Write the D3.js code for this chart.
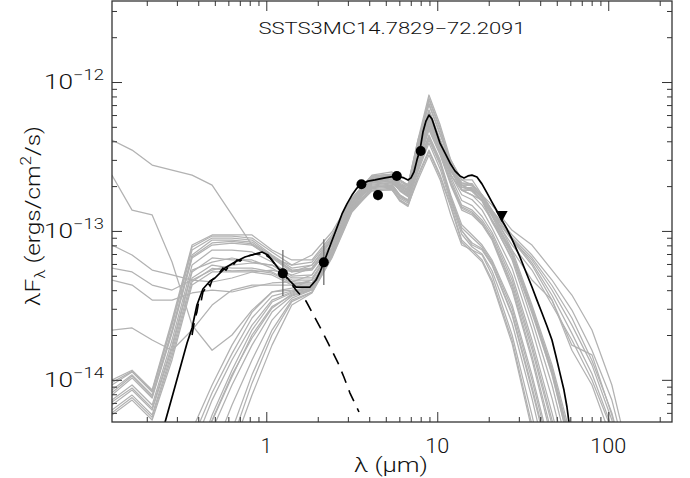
<!DOCTYPE html>
<html><head><meta charset="utf-8">
<script src="https://cdn.jsdelivr.net/npm/d3@7"></script>
<style>
body{margin:0;background:#fff}
svg{display:block}
text{font-family:Roboto,"DejaVu Sans","Liberation Sans",sans-serif;font-weight:300;fill:#111}
</style>
</head><body>
<svg id="c" width="690" height="478"></svg>
<script>
// ---------------- data ----------------
const chartTitle = "SSTS3MC14.7829\u221272.2091";
const xDomain = [0.1252, 236];          // micron
const yDomain = [5.21e-15, 3.5e-12];    // erg/cm2/s
const xMajorTicks = [1, 10, 100];
const xMajorLabels = ["1", "10", "100"];
const xMinorTicks = [0.2,0.3,0.4,0.5,0.6,0.7,0.8,0.9,2,3,4,5,6,7,8,9,20,30,40,50,60,70,80,90,200];
const yMajorTicks = [1e-14, 1e-13, 1e-12];
const yMajorExponents = ["\u221214", "\u221213", "\u221212"];
const yMinorTicks = [6e-15,7e-15,8e-15,9e-15,2e-14,3e-14,4e-14,5e-14,6e-14,7e-14,8e-14,9e-14,
                     2e-13,3e-13,4e-13,5e-13,6e-13,7e-13,8e-13,9e-13,2e-12,3e-12];

// observed photometry (J, Ks, IRAC 3.6/4.5/5.8/8.0)
const obsLambda = [1.25, 2.17, 3.6, 4.5, 5.8, 8.0];
const obsFlux   = [5.19e-14, 6.15e-14, 2.06e-13, 1.74e-13, 2.34e-13, 3.44e-13];
const obsErrLo  = [3.65e-14, 4.33e-14, 1.95e-13, 1.60e-13, 2.22e-13, 3.30e-13];
const obsErrHi  = [7.44e-14, 8.78e-14, 2.16e-13, 1.88e-13, 2.46e-13, 3.58e-13];
// MIPS 24 upper limit
const limLambda = [23.8];
const limFlux   = [1.26e-13];

// best fit model
const fitLambda = [0.239,0.256,0.292,0.344,0.368,0.393,0.426,0.469,0.501,0.573,0.656,0.750,0.859,0.944,1.023,1.080,1.171,1.252,1.376,1.492,1.639,1.801,1.953,2.061,2.175,2.358,2.556,2.772,2.964,3.171,3.391,3.627,3.932,4.322,4.945,5.811,6.387,6.743,7.020,7.309,7.606,7.920,8.248,8.588,8.944,9.311,9.826,10.37,11.09,11.87,12.69,13.58,14.33,15.12,15.96,17.07,18.25,19.53,20.89,22.34,23.90,25.56,27.35,30.45,33.02,35.80,38.28,40.96,43.80,46.87,49.46,52.19,55.08,57.35,58.91,60.51];
const fitFlux = [3.65e-15,5.21e-15,8.94e-15,1.77e-14,2.23e-14,3.18e-14,4.07e-14,4.61e-14,4.83e-14,5.63e-14,6.18e-14,6.68e-14,7.00e-14,7.22e-14,6.89e-14,6.38e-14,5.63e-14,5.21e-14,4.61e-14,4.20e-14,4.20e-14,4.20e-14,4.68e-14,5.30e-14,6.18e-14,7.92e-14,1.01e-13,1.30e-13,1.52e-13,1.74e-13,1.94e-13,2.07e-13,2.16e-13,2.20e-13,2.27e-13,2.34e-13,2.27e-13,2.20e-13,2.27e-13,2.49e-13,2.99e-13,3.49e-13,4.61e-13,5.47e-13,6.00e-13,5.64e-13,4.69e-13,3.89e-13,3.34e-13,2.86e-13,2.53e-13,2.34e-13,2.27e-13,2.34e-13,2.37e-13,2.30e-13,2.07e-13,1.80e-13,1.56e-13,1.36e-13,1.18e-13,1.03e-13,8.82e-14,6.68e-14,5.30e-14,4.20e-14,3.43e-14,2.81e-14,2.30e-14,1.85e-14,1.44e-14,1.11e-14,8.54e-15,6.57e-15,5.21e-15,3.94e-15];

// stellar photosphere of the best fit (dashed)
const photLambda = [0.368,0.383,0.393,0.404,0.415,0.426,0.444,0.456,0.469,0.482,0.508,0.536,0.558,0.581,0.605,0.630,0.647,0.674,0.702,0.741,0.782,0.825,0.871,0.919,0.969,1.009,1.051,1.109,1.171,1.252,1.376,1.492,1.617,1.707,1.850,2.061,2.296,2.627,2.847,3.087,3.484];
const photFlux = [2.00e-14,2.60e-14,2.85e-14,3.43e-14,3.33e-14,3.89e-14,4.13e-14,4.47e-14,4.27e-14,4.68e-14,4.90e-14,5.30e-14,5.63e-14,5.46e-14,5.81e-14,6.18e-14,5.99e-14,6.38e-14,6.28e-14,6.58e-14,6.79e-14,6.89e-14,7.00e-14,7.00e-14,7.22e-14,6.79e-14,6.58e-14,6.09e-14,5.63e-14,5.21e-14,4.54e-14,4.01e-14,3.60e-14,3.38e-14,2.85e-14,2.26e-14,1.77e-14,1.30e-14,1.04e-14,8.15e-15,6.08e-15];

// wavelength grid shared by the other good-fit models (grey)
const modelLambda = [0.125,0.164,0.215,0.281,0.368,0.482,0.630,0.825,1.08,1.41,1.85,2.42,3.17,4.15,5.43,6.05,6.74,7.71,8.94,10.4,12.0,13.9,16.0,18.3,20.9,27.4,35.8,46.9,61.3,80.3,105,138,180,236];
const model01 = [9.97e-15,1.16e-14,8.54e-15,2.52e-14,8.04e-14,9.39e-14,9.39e-14,9.39e-14,7.44e-14,6.38e-14,6.38e-14,9.39e-14,1.66e-13,2.37e-13,2.49e-13,2.20e-13,2.03e-13,4.08e-13,8.18e-13,5.14e-13,2.99e-13,2.20e-13,2.20e-13,1.74e-13,1.38e-13,7.44e-14,3.18e-14,1.26e-14,3.94e-15,1.14e-15,2.4e-16,5.2e-17,1.1e-17,2.4e-18];
const model02 = [9.23e-15,1.13e-14,8.28e-15,2.33e-14,7.44e-14,8.96e-14,8.96e-14,8.69e-14,6.89e-14,5.63e-14,5.90e-14,8.69e-14,1.61e-13,2.27e-13,2.34e-13,2.03e-13,1.88e-13,3.49e-13,6.48e-13,4.08e-13,2.56e-13,2.03e-13,1.88e-13,1.61e-13,1.18e-13,6.89e-14,2.94e-14,1.16e-14,3.38e-15,8.4e-16,1.8e-16,3.8e-17,8.1e-18,1.7e-18];
const model03 = [7.90e-15,1.03e-14,7.54e-15,2.06e-14,6.58e-14,8.04e-14,8.29e-14,8.04e-14,6.58e-14,5.30e-14,5.46e-14,8.04e-14,1.54e-13,2.13e-13,2.20e-13,1.88e-13,1.74e-13,2.99e-13,5.14e-13,3.49e-13,2.20e-13,1.49e-13,1.38e-13,1.18e-13,9.39e-14,4.68e-14,1.71e-14,5.37e-15,1.56e-15,3.3e-16,7.0e-17,1.5e-17,3.2e-18,6.8e-19];
const model04 = [7.31e-15,9.23e-15,6.77e-15,1.85e-14,5.90e-14,7.44e-14,7.44e-14,7.22e-14,6.18e-14,4.98e-14,5.06e-14,7.67e-14,1.49e-13,1.97e-13,2.03e-13,1.74e-13,1.61e-13,2.56e-13,4.08e-13,2.77e-13,1.61e-13,1.01e-13,8.04e-14,7.44e-14,5.90e-14,2.72e-14,8.54e-15,2.48e-15,6.2e-16,1.3e-16,2.8e-17,6.0e-18,1.3e-18,6.8e-19];
const model05 = [6.77e-15,8.54e-15,6.27e-15,1.63e-14,5.30e-14,6.58e-14,6.38e-14,6.38e-14,5.63e-14,4.68e-14,4.68e-14,7.44e-14,1.52e-13,2.27e-13,2.34e-13,2.03e-13,2.03e-13,3.77e-13,6.48e-13,4.08e-13,2.77e-13,2.03e-13,2.03e-13,1.74e-13,1.38e-13,9.39e-14,6.89e-14,4.68e-14,2.94e-14,1.58e-14,7.31e-15,2.13e-15,6.2e-16,1.8e-16];
const model06 = [6.27e-15,7.90e-15,5.80e-15,1.54e-14,4.83e-14,5.90e-14,5.63e-14,5.63e-14,5.30e-14,4.54e-14,4.47e-14,7.22e-14,1.47e-13,2.03e-13,2.10e-13,1.88e-13,1.74e-13,2.77e-13,4.76e-13,3.23e-13,2.03e-13,1.38e-13,1.28e-13,1.10e-13,8.69e-14,4.01e-14,1.36e-14,3.94e-15,9.8e-16,2.1e-16,4.4e-17,9.5e-18,2.0e-18,6.8e-19];
const model07 = [5.80e-15,7.31e-15,5.37e-15,1.36e-14,4.33e-14,5.30e-14,5.30e-14,5.30e-14,5.06e-14,4.33e-14,4.33e-14,7.00e-14,1.42e-13,1.88e-13,1.94e-13,1.61e-13,1.49e-13,2.37e-13,3.49e-13,2.37e-13,1.49e-13,8.69e-14,7.44e-14,6.38e-14,4.68e-14,1.85e-14,4.97e-15,1.14e-15,2.4e-16,5.2e-17,1.1e-17,2.4e-18,6.8e-19,3.0e-19];
const model08 = [8.54e-15,1.08e-14,7.90e-15,2.16e-14,6.89e-14,8.69e-14,8.69e-14,8.42e-14,6.79e-14,5.46e-14,5.63e-14,8.29e-14,1.56e-13,2.30e-13,2.37e-13,2.20e-13,2.03e-13,3.77e-13,7.57e-13,4.76e-13,2.77e-13,2.03e-13,2.03e-13,1.74e-13,1.28e-13,6.89e-14,2.94e-14,1.08e-14,3.13e-15,8.4e-16,1.8e-16,3.8e-17,8.1e-18,1.7e-18];
const model09 = [7.09e-15,8.81e-15,6.46e-15,1.71e-14,5.46e-14,6.18e-14,6.58e-14,6.18e-14,5.90e-14,4.83e-14,4.83e-14,7.44e-14,1.49e-13,2.00e-13,2.07e-13,1.74e-13,1.61e-13,2.77e-13,4.41e-13,2.99e-13,1.74e-13,1.10e-13,9.39e-14,8.04e-14,6.38e-14,3.18e-14,1.08e-14,3.13e-15,7.8e-16,1.8e-16,3.8e-17,8.1e-18,1.7e-18,6.8e-19];
const model10 = [3.3e-16,6.2e-16,1.56e-15,2.48e-15,4.60e-15,9.23e-15,1.71e-14,2.85e-14,3.89e-14,4.01e-14,4.20e-14,7.44e-14,1.45e-13,2.16e-13,2.23e-13,2.03e-13,1.88e-13,3.23e-13,5.56e-13,3.77e-13,2.37e-13,1.88e-13,1.88e-13,1.61e-13,1.28e-13,8.04e-14,5.46e-14,3.18e-14,1.85e-14,9.97e-15,4.60e-15,1.33e-15,3.9e-16,1.1e-16];
const model11 = [1.8e-16,3.3e-16,8.4e-16,1.14e-15,2.48e-15,5.80e-15,1.16e-14,2.16e-14,3.33e-14,3.83e-14,4.13e-14,7.22e-14,1.42e-13,2.20e-13,2.27e-13,2.03e-13,1.88e-13,3.49e-13,6.00e-13,3.77e-13,2.56e-13,1.88e-13,1.74e-13,1.49e-13,1.18e-13,6.38e-14,2.52e-14,9.23e-15,2.68e-15,6.2e-16,1.3e-16,2.8e-17,6.0e-18,1.3e-18];
const model12 = [7.0e-17,1.5e-16,3.3e-16,8.4e-16,1.56e-15,4.60e-15,9.23e-15,1.71e-14,2.85e-14,3.65e-14,4.01e-14,6.89e-14,1.38e-13,2.10e-13,2.16e-13,1.85e-13,1.70e-13,2.90e-13,5.00e-13,3.40e-13,2.10e-13,1.45e-13,1.34e-13,1.14e-13,9.0e-14,4.4e-14,1.6e-14,5.0e-15,1.4e-15,3.0e-16,6.5e-17,1.4e-17,3.0e-18,6.5e-19];
const model13 = [3.2e-17,7.0e-17,1.5e-16,3.3e-16,8.4e-16,2.13e-15,4.60e-15,1.08e-14,2.16e-14,3.43e-14,3.89e-14,6.79e-14,1.38e-13,1.97e-13,2.03e-13,1.70e-13,1.58e-13,2.70e-13,4.30e-13,2.90e-13,1.68e-13,1.05e-13,9.0e-14,7.8e-14,6.2e-14,3.0e-14,1.0e-14,2.9e-15,7.2e-16,1.7e-16,3.6e-17,7.8e-18,1.6e-18,6.5e-19];
const model14 = [1.5e-17,3.2e-17,7.0e-17,1.8e-16,4.5e-16,1.33e-15,3.38e-15,7.90e-15,1.71e-14,3.18e-14,3.83e-14,6.58e-14,1.34e-13,1.88e-13,1.88e-13,1.61e-13,1.49e-13,2.20e-13,3.23e-13,2.20e-13,1.28e-13,8.04e-14,7.44e-14,6.89e-14,5.06e-14,2.00e-14,5.80e-15,1.44e-15,3.3e-16,7.0e-17,1.5e-17,3.2e-18,6.8e-19,3.0e-19];
const model15 = [1.3e-16,2.4e-16,6.2e-16,1.56e-15,3.38e-15,7.31e-15,1.36e-14,2.33e-14,3.43e-14,3.89e-14,4.13e-14,7.22e-14,1.42e-13,2.24e-13,2.30e-13,2.00e-13,1.85e-13,3.40e-13,6.20e-13,3.95e-13,2.50e-13,1.98e-13,1.84e-13,1.58e-13,1.15e-13,6.6e-14,2.8e-14,1.1e-14,3.2e-15,8.0e-16,1.7e-16,3.6e-17,7.8e-18,1.6e-18];
const model16 = [5.2e-17,9.6e-17,2.4e-16,6.2e-16,1.14e-15,3.13e-15,6.77e-15,1.36e-14,2.52e-14,3.54e-14,4.01e-14,6.89e-14,1.38e-13,1.85e-13,1.90e-13,1.58e-13,1.46e-13,2.30e-13,3.40e-13,2.30e-13,1.44e-13,8.4e-14,7.2e-14,6.2e-14,4.5e-14,1.75e-14,4.6e-15,1.05e-15,2.2e-16,4.8e-17,1.0e-17,2.2e-18,6.4e-19,2.8e-19];
const model17 = [4.08e-13,3.49e-13,2.77e-13,2.56e-13,2.37e-13,2.03e-13,1.28e-13,8.04e-14,6.58e-14,5.90e-14,6.89e-14,9.83e-14,1.66e-13,2.34e-13,2.41e-13,2.20e-13,2.03e-13,4.08e-13,7.01e-13,4.41e-13,2.99e-13,2.20e-13,2.03e-13,1.74e-13,1.49e-13,1.01e-13,8.04e-14,5.46e-14,3.71e-14,2.16e-14,9.23e-15,2.48e-15,6.2e-16,1.8e-16];
const model18 = [2.37e-13,1.38e-13,1.28e-13,6.18e-14,2.33e-14,1.58e-14,2.00e-14,2.94e-14,3.89e-14,4.13e-14,4.68e-14,8.04e-14,1.49e-13,2.06e-13,2.12e-13,1.92e-13,1.78e-13,2.85e-13,4.90e-13,3.30e-13,2.08e-13,1.42e-13,1.31e-13,1.12e-13,8.9e-14,4.2e-14,1.45e-14,4.3e-15,1.1e-15,2.4e-16,5.0e-17,1.1e-17,2.3e-18,7.0e-19];
const model19 = [8.04e-14,6.89e-14,5.46e-14,5.06e-14,4.68e-14,4.54e-14,4.83e-14,5.30e-14,5.46e-14,5.06e-14,5.63e-14,8.69e-14,1.61e-13,2.20e-13,2.27e-13,2.03e-13,1.88e-13,3.49e-13,5.56e-13,3.77e-13,2.56e-13,1.88e-13,1.88e-13,1.61e-13,1.28e-13,8.69e-14,5.90e-14,3.43e-14,1.58e-14,9.23e-15,3.94e-15,1.14e-15,3.3e-16,9.6e-17];
const model20 = [4.68e-14,4.33e-14,3.43e-14,3.43e-14,3.83e-14,4.01e-14,3.89e-14,4.20e-14,4.47e-14,4.54e-14,5.06e-14,8.04e-14,1.56e-13,2.10e-13,2.16e-13,1.88e-13,1.74e-13,3.23e-13,5.56e-13,3.49e-13,2.37e-13,1.88e-13,1.74e-13,1.61e-13,1.18e-13,7.44e-14,4.68e-14,3.43e-14,1.71e-14,1.47e-14,5.80e-15,1.82e-15,5.3e-16,1.5e-16];
const model21 = [2.16e-14,2.23e-14,1.85e-14,1.58e-14,2.16e-14,3.18e-14,4.01e-14,4.33e-14,4.33e-14,4.33e-14,4.68e-14,7.67e-14,1.49e-13,2.33e-13,2.40e-13,2.15e-13,2.00e-13,3.90e-13,7.80e-13,4.90e-13,2.85e-13,2.10e-13,2.08e-13,1.70e-13,1.32e-13,7.1e-14,3.05e-14,1.15e-14,3.5e-15,9.5e-16,2.0e-16,4.3e-17,9.0e-18,1.9e-18];
const model22 = [5.63e-14,5.30e-14,4.33e-14,4.01e-14,4.68e-14,5.46e-14,5.90e-14,6.09e-14,5.90e-14,5.30e-14,5.90e-14,8.96e-14,1.61e-13,2.23e-13,2.30e-13,2.03e-13,1.88e-13,3.49e-13,6.00e-13,4.08e-13,2.56e-13,2.03e-13,1.88e-13,1.74e-13,1.38e-13,8.69e-14,6.38e-14,4.01e-14,2.33e-14,1.26e-14,5.37e-15,1.56e-15,4.5e-16,1.3e-16];
const model23 = [9.6e-15,1.14e-14,8.4e-15,2.42e-14,7.79e-14,9.24e-14,9.24e-14,8.96e-14,7.22e-14,5.90e-14,6.18e-14,9.10e-14,1.64e-13,2.32e-13,2.40e-13,2.10e-13,1.95e-13,3.80e-13,7.20e-13,4.50e-13,2.70e-13,2.10e-13,2.00e-13,1.66e-13,1.25e-13,7.0e-14,3.0e-14,1.2e-14,3.6e-15,9.5e-16,2.0e-16,4.4e-17,9.0e-18,2.0e-18];
const model24 = [2.2e-16,4.2e-16,1.0e-15,2.0e-15,3.9e-15,8.2e-15,1.5e-14,2.6e-14,3.65e-14,3.95e-14,4.15e-14,7.3e-14,1.44e-13,2.16e-13,2.22e-13,1.95e-13,1.80e-13,3.10e-13,5.30e-13,3.60e-13,2.30e-13,1.60e-13,1.48e-13,1.25e-13,9.8e-14,5.0e-14,1.85e-14,6.0e-15,1.8e-15,4.0e-16,8.5e-17,1.8e-17,4.0e-18,8.0e-19];
const model25 = [6.0e-15,7.6e-15,5.6e-15,1.45e-14,4.55e-14,5.6e-14,5.4e-14,5.45e-14,5.2e-14,4.45e-14,4.4e-14,7.1e-14,1.45e-13,2.25e-13,2.30e-13,2.05e-13,1.95e-13,3.60e-13,6.20e-13,3.90e-13,2.65e-13,1.95e-13,1.95e-13,1.68e-13,1.33e-13,9.0e-14,6.6e-14,4.3e-14,2.6e-14,1.35e-14,6.0e-15,1.8e-15,5.2e-16,1.5e-16];
const model26 = [9.0e-17,1.9e-16,4.5e-16,1.1e-15,2.1e-15,5.3e-15,1.05e-14,2.0e-14,3.1e-14,3.7e-14,4.05e-14,6.95e-14,1.40e-13,1.95e-13,2.00e-13,1.72e-13,1.59e-13,2.60e-13,4.20e-13,2.85e-13,1.65e-13,1.00e-13,8.3e-14,7.6e-14,6.0e-14,2.8e-14,9.0e-15,2.6e-15,6.5e-16,1.4e-16,3.0e-17,6.5e-18,1.4e-18,6.5e-19];
const model27 = [1.5e-16,2.8e-16,6.2e-16,1.44e-15,2.90e-15,5.37e-15,1.08e-14,1.91e-14,3.03e-14,3.77e-14,4.07e-14,7.00e-14,1.40e-13,2.18e-13,2.24e-13,1.96e-13,1.82e-13,3.20e-13,5.70e-13,3.80e-13,2.40e-13,1.75e-13,1.62e-13,1.38e-13,1.05e-13,5.6e-14,2.2e-14,7.5e-15,2.2e-15,5.0e-16,1.0e-16,2.2e-17,4.5e-18,1.0e-18];
const model28 = [2.6e-17,5.5e-17,1.2e-16,2.8e-16,6.5e-16,1.7e-15,3.9e-15,9.5e-15,2.0e-14,3.35e-14,3.86e-14,6.7e-14,1.36e-13,1.92e-13,1.97e-13,1.66e-13,1.54e-13,2.50e-13,3.90e-13,2.60e-13,1.55e-13,9.5e-14,7.8e-14,7.0e-14,5.4e-14,2.4e-14,7.5e-15,2.0e-15,4.8e-16,1.0e-16,2.2e-17,4.8e-18,1.0e-18,5.0e-19];
const model29 = [8.2e-15,1.06e-14,7.7e-15,2.1e-14,6.7e-14,8.3e-14,8.5e-14,8.2e-14,6.7e-14,5.4e-14,5.55e-14,8.1e-14,1.55e-13,2.21e-13,2.28e-13,2.02e-13,1.90e-13,3.55e-13,6.10e-13,4.00e-13,2.60e-13,1.96e-13,1.92e-13,1.66e-13,1.33e-13,8.9e-14,6.1e-14,3.7e-14,2.05e-14,1.1e-14,4.8e-15,1.4e-15,4.0e-16,1.2e-16];
const greyModels = [model01,model02,model03,model04,model05,model06,model07,model08,model09,model10,model11,model12,model13,model14,model15,
                    model16,model17,model18,model19,model20,model21,model22,model23,model24,model25,model26,model27,model28,model29];

// ---------------- drawing ----------------
const plot = {left:112, right:672, top:1, bottom:422};
const svg = d3.select("#c");
const x = d3.scaleLog().domain(xDomain).range([plot.left, plot.right]);
const y = d3.scaleLog().domain(yDomain).range([plot.bottom, plot.top]);

svg.append("defs").append("clipPath").attr("id","clip")
  .append("rect").attr("x",plot.left).attr("y",plot.top)
  .attr("width",plot.right-plot.left).attr("height",plot.bottom-plot.top);

const gData = svg.append("g").attr("clip-path","url(#clip)");
const line = d3.line().x(d=>x(d[0])).y(d=>y(d[1]));

greyModels.forEach(m=>{
  gData.append("path")
    .attr("d", line(modelLambda.map((l,i)=>[l,m[i]])))
    .attr("fill","none").attr("stroke","#b2b2b2").attr("stroke-width",1.25)
    .attr("stroke-linejoin","round");
});

gData.append("path")
  .attr("d", line(fitLambda.map((l,i)=>[l,fitFlux[i]])))
  .attr("fill","none").attr("stroke","#000").attr("stroke-width",1.7).attr("stroke-linejoin","round");

gData.append("path")
  .attr("d", line(photLambda.map((l,i)=>[l,photFlux[i]])))
  .attr("fill","none").attr("stroke","#000").attr("stroke-width",1.6)
  .attr("stroke-dasharray","12,8");

// error bars
obsLambda.forEach((l,i)=>{
  gData.append("line").attr("x1",x(l)).attr("x2",x(l))
    .attr("y1",y(obsErrLo[i])).attr("y2",y(obsErrHi[i]))
    .attr("stroke","#6e6e6e").attr("stroke-width",1.3);
});
// points
obsLambda.forEach((l,i)=>{
  gData.append("circle").attr("cx",x(l)).attr("cy",y(obsFlux[i])).attr("r",5).attr("fill","#000");
});
// upper limit triangle
limLambda.forEach((l,i)=>{
  const cx = x(l), cy = y(limFlux[i]);
  gData.append("path").attr("d",`M${cx-6},${cy-5}L${cx+6},${cy-5}L${cx},${cy+6}Z`).attr("fill","#000");
});

// axes / ticks (pointing inward)
function styleAxis(g){ g.select(".domain").remove(); g.selectAll("line").attr("stroke","#333").attr("stroke-width",1); g.selectAll("text").remove(); }
svg.append("g").attr("transform",`translate(0,${plot.bottom})`).call(d3.axisBottom(x).tickValues(xMajorTicks).tickSize(-10)).call(styleAxis);
svg.append("g").attr("transform",`translate(0,${plot.bottom})`).call(d3.axisBottom(x).tickValues(xMinorTicks).tickSize(-5)).call(styleAxis);
svg.append("g").attr("transform",`translate(0,${plot.top})`).call(d3.axisTop(x).tickValues(xMajorTicks).tickSize(-10)).call(styleAxis);
svg.append("g").attr("transform",`translate(0,${plot.top})`).call(d3.axisTop(x).tickValues(xMinorTicks).tickSize(-5)).call(styleAxis);
svg.append("g").attr("transform",`translate(${plot.left},0)`).call(d3.axisLeft(y).tickValues(yMajorTicks).tickSize(-10)).call(styleAxis);
svg.append("g").attr("transform",`translate(${plot.left},0)`).call(d3.axisLeft(y).tickValues(yMinorTicks).tickSize(-5)).call(styleAxis);
svg.append("g").attr("transform",`translate(${plot.right},0)`).call(d3.axisRight(y).tickValues(yMajorTicks).tickSize(-10)).call(styleAxis);
svg.append("g").attr("transform",`translate(${plot.right},0)`).call(d3.axisRight(y).tickValues(yMinorTicks).tickSize(-5)).call(styleAxis);

svg.append("rect").attr("x",plot.left).attr("y",plot.top)
  .attr("width",plot.right-plot.left).attr("height",plot.bottom-plot.top)
  .attr("fill","none").attr("stroke","#333").attr("stroke-width",1.3);

// tick labels
const xLabelWidths = [11, 24, 36];
xMajorTicks.forEach((v,i)=>{
  svg.append("text").attr("x",x(v)).attr("y",453).attr("text-anchor","middle")
    .attr("font-size",20).attr("textLength",xLabelWidths[i]).attr("lengthAdjust","spacingAndGlyphs")
    .text(xMajorLabels[i]);
});
yMajorTicks.forEach((v,i)=>{
  const t = svg.append("text").attr("x",104).attr("y",y(v)+7).attr("text-anchor","end")
    .attr("textLength",60).attr("lengthAdjust","spacingAndGlyphs");
  t.append("tspan").attr("font-size",20).text("10");
  t.append("tspan").attr("font-size",14).attr("dy",-9).text(yMajorExponents[i]);
});

// axis titles
svg.append("text").attr("x",391).attr("y",472).attr("text-anchor","middle").attr("font-size",20)
  .attr("textLength",74).attr("lengthAdjust","spacingAndGlyphs")
  .text("\u03bb (\u03bcm)");
const yt = svg.append("text").attr("transform","translate(40,216) rotate(-90)").attr("text-anchor","middle")
  .attr("font-size",20).attr("textLength",180).attr("lengthAdjust","spacingAndGlyphs");
yt.append("tspan").text("\u03bbF");
yt.append("tspan").attr("font-size",14).attr("dy",5).text("\u03bb");
yt.append("tspan").attr("dy",-5).text(" (ergs/cm");
yt.append("tspan").attr("font-size",14).attr("dy",-9).text("2");
yt.append("tspan").attr("dy",9).text("/s)");

// title
svg.append("text").attr("x",392).attr("y",34).attr("text-anchor","middle").attr("font-size",16)
  .attr("textLength",267).attr("lengthAdjust","spacingAndGlyphs").text(chartTitle);
</script>
</body></html>
